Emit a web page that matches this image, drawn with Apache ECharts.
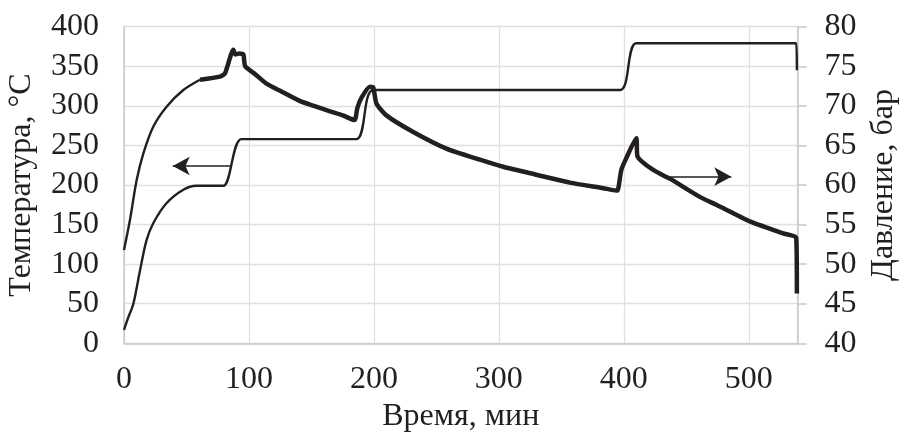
<!DOCTYPE html>
<html>
<head>
<meta charset="utf-8">
<script src="https://cdn.jsdelivr.net/npm/echarts@6/dist/echarts.min.js"></script>
<style>html,body{margin:0;padding:0;background:#fff}#c{width:903px;height:437px}</style>
</head>
<body>
<div id="c"></div>
<script>
// Temperature, °C (left axis)
var tempTime  = [0, 3.5, 7.5, 12.8, 18, 23.5, 34, 47.5, 58, 66, 79.5, 94, 120, 150, 186, 199.5, 250, 300, 350, 397, 410, 450, 500, 538, 538.5];
var tempValue = [17, 33, 50, 92, 130, 152, 177, 194, 199, 199, 199, 258, 258, 258, 258, 320, 320, 320, 320, 320, 379, 379, 379, 379, 345];
// Pressure, bar (right axis)
var presTime  = [0, 4.8, 10.1, 15.5, 23.5, 34.1, 47.5, 60.8, 76.8, 80.8, 87.5, 89, 92, 95.5, 97, 105, 114, 125, 141, 152, 165, 175, 184.5, 186.7, 190, 196.8, 199.5, 202, 210, 231.5, 258, 284.8, 303.5, 330, 356.8, 383.5, 394, 395, 398, 402, 410, 411, 423.5, 436.8, 460.8, 474, 500.8, 527.5, 538, 538.5];
var presValue = [51.8, 55.6, 60.6, 64.0, 67.4, 69.9, 72.0, 73.3, 73.7, 74.1, 77.1, 76.5, 76.6, 76.5, 75.0, 74.0, 72.8, 71.9, 70.6, 70.0, 69.3, 68.8, 68.2, 69.7, 71.0, 72.4, 72.3, 70.3, 68.8, 66.7, 64.6, 63.2, 62.3, 61.3, 60.3, 59.6, 59.3, 59.3, 61.9, 63.4, 65.9, 63.6, 61.9, 60.8, 58.5, 57.5, 55.4, 53.9, 53.3, 46.3];
// Axis ticks
var xTicks = {min: 0, max: 539, interval: 100};
var tTicks = {min: 0, max: 400, interval: 50};
var pTicks = {min: 40, max: 80, interval: 5};
// Arrow positions (data coords)
var tempArrow = [[84.8, 224], [39, 224]];
var presArrow = [[437, 61.05], [486, 61.05]];

function pairs(a, b) { return a.map(function (t, i) { return [t, b[i]]; }); }
var presPairs = pairs(presTime, presValue);
var splitIdx = 7;

var FONT = 'Liberation Serif';
var FS = 32;
var textColor = '#231f20';
var lineColor = '#231f20';
var chart = echarts.init(document.getElementById('c'), null, {renderer: 'canvas'});
chart.setOption({
  animation: false,
  backgroundColor: '#fff',
  grid: {left: 124, right: 105.5, top: 26.7, bottom: 93.7, containLabel: false, outerBoundsMode: 'none'},
  xAxis: {
    type: 'value', min: xTicks.min, max: xTicks.max, interval: xTicks.interval,
    name: 'Время, мин', nameLocation: 'middle', nameGap: 52,
    nameTextStyle: {fontFamily: FONT, fontSize: FS, color: textColor},
    axisLine: {show: true, lineStyle: {color: '#c8c8c8', width: 1.5}},
    axisTick: {show: false},
    axisLabel: {fontFamily: FONT, fontSize: FS, color: textColor, margin: 20, showMaxLabel: false},
    splitLine: {show: true, lineStyle: {color: '#e0e0e0', width: 1.3}}
  },
  yAxis: [{
    type: 'value', min: tTicks.min, max: tTicks.max, interval: tTicks.interval,
    name: 'Температура, °C', nameLocation: 'middle', nameGap: 86, nameRotate: 90,
    nameTextStyle: {fontFamily: FONT, fontSize: FS, color: textColor},
    axisLine: {show: true, lineStyle: {color: '#c8c8c8', width: 1.5}},
    axisTick: {show: false},
    axisLabel: {fontFamily: FONT, fontSize: FS, color: textColor, margin: 25},
    splitLine: {show: true, lineStyle: {color: '#e0e0e0', width: 1.3}}
  }, {
    type: 'value', min: pTicks.min, max: pTicks.max, interval: pTicks.interval,
    position: 'right',
    name: 'Давление, бар', nameLocation: 'middle', nameGap: 69, nameRotate: 90,
    nameTextStyle: {fontFamily: FONT, fontSize: FS, color: textColor},
    axisLine: {show: true, lineStyle: {color: '#c8c8c8', width: 1.5}},
    axisTick: {show: true, inside: false, length: 9, lineStyle: {color: '#c8c8c8', width: 1.5}},
    axisLabel: {fontFamily: FONT, fontSize: FS, color: textColor, margin: 27},
    splitLine: {show: false}
  }],
  series: [{
    name: 'Температура', type: 'line', yAxisIndex: 0, showSymbol: false, smooth: 0.3,
    data: pairs(tempTime, tempValue),
    lineStyle: {color: lineColor, width: 2.4},
    markLine: {
      silent: true, symbol: ['none', 'arrow'], symbolSize: [14, 17],
      label: {show: false},
      lineStyle: {color: lineColor, width: 1.6, type: 'solid'},
      data: [[{coord: tempArrow[0]}, {coord: tempArrow[1]}]]
    }
  }, {
    name: 'Давление1', type: 'line', yAxisIndex: 1, showSymbol: false, smooth: 0.3,
    data: presPairs.slice(0, splitIdx + 1),
    lineStyle: {color: lineColor, width: 2.4}
  }, {
    name: 'Давление2', type: 'line', yAxisIndex: 1, showSymbol: false, smooth: 0.2,
    data: presPairs.slice(splitIdx),
    lineStyle: {color: lineColor, width: 4.5},
    markLine: {
      silent: true, symbol: ['none', 'arrow'], symbolSize: [14, 17],
      label: {show: false},
      lineStyle: {color: lineColor, width: 1.6, type: 'solid'},
      data: [[{coord: presArrow[0]}, {coord: presArrow[1]}]]
    }
  }]
});
</script>
</body>
</html>
